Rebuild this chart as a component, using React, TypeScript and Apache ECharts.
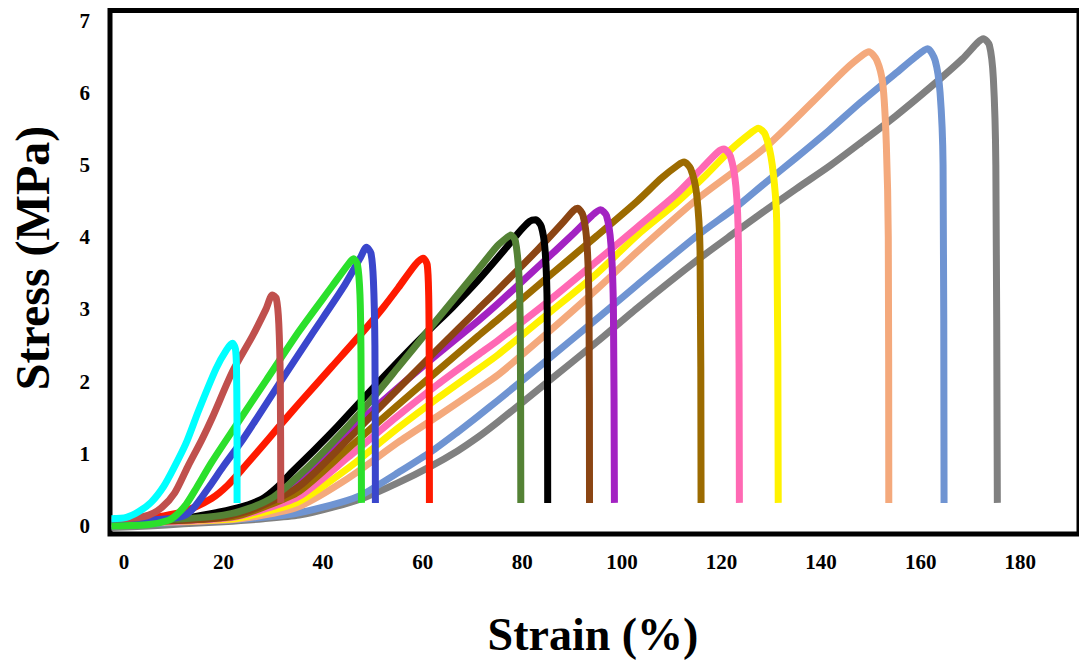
import React, { useEffect, useRef } from "react";
import * as echarts from "echarts";

// Tick labels
const strainTicks = [0, 20, 40, 60, 80, 100, 120, 140, 160, 180];
const stressTicks = [0, 1, 2, 3, 4, 5, 6, 7];

// Curves: [strain (%), stress (MPa)]
const curveGray: number[][] = [
  [-2.5, -0.02], [5, 0.0], [12, 0.03], [20, 0.06], [28, 0.1], [35.2, 0.15], [42, 0.26], [48.5, 0.4],
  [55.1, 0.6], [61.7, 0.83], [67, 1.04], [71.1, 1.23], [75.1, 1.44], [85, 1.99], [95, 2.55], [103.1, 3.02],
  [115.1, 3.68], [123, 4.08], [128.4, 4.35], [135, 4.67], [141.6, 4.98], [148, 5.31], [155, 5.68], [162, 6.08],
  [168.4, 6.47], [171.5, 6.7], [172.6, 6.75], [173.8, 6.66], [174.6, 6.2], [175.1, 5.0], [175.4, 0.32],
];
const curveCornflower: number[][] = [
  [-2.5, 0.0], [5, 0.03], [12, 0.06], [20.8, 0.08], [28, 0.12], [34.2, 0.17], [40, 0.26], [46, 0.38],
  [48.5, 0.46], [55.1, 0.74], [61.7, 1.03], [67, 1.3], [71.1, 1.52], [75.1, 1.74], [85, 2.3], [95, 2.87],
  [103.1, 3.34], [115.1, 4.02], [123, 4.42], [128.4, 4.73], [135, 5.1], [141.6, 5.48], [148, 5.87], [155, 6.27],
  [159, 6.5], [161.4, 6.61], [162.9, 6.45], [163.9, 6.0], [164.5, 5.0], [164.7, 0.32],
];
const curveSalmon: number[][] = [
  [-2.5, 0.04], [12, 0.06], [22, 0.09], [28, 0.15], [35.2, 0.27], [45, 0.66], [55.1, 1.16], [63, 1.52],
  [71.1, 1.9], [75.1, 2.09], [85, 2.67], [95, 3.28], [103.1, 3.8], [115, 4.52], [128.4, 5.22], [138.4, 5.88],
  [145, 6.33], [148.5, 6.53], [149.6, 6.57], [151.2, 6.45], [152.4, 6.12], [153.1, 5.3], [153.5, 4.0], [153.6, 0.32],
];
const curveYellow: number[][] = [
  [-2.5, 0.05], [12, 0.07], [22, 0.1], [28, 0.19], [35.2, 0.34], [45, 0.8], [55.1, 1.36], [63, 1.77],
  [71.1, 2.17], [75.1, 2.37], [85, 2.93], [95, 3.5], [103.1, 4.03], [111, 4.48], [117, 4.87], [122, 5.22],
  [126, 5.45], [127.4, 5.51], [128.8, 5.42], [130.2, 5.0], [131.1, 4.2], [131.4, 0.32],
];
const curvePink: number[][] = [
  [-2.5, 0.05], [12, 0.07], [22, 0.12], [28, 0.23], [35.2, 0.41], [45, 0.95], [55.1, 1.53], [63, 1.96],
  [71.1, 2.37], [75.1, 2.57], [85, 3.1], [95, 3.67], [103.1, 4.14], [111, 4.6], [116, 4.95], [119.3, 5.18],
  [120.5, 5.22], [121.8, 5.12], [122.9, 4.7], [123.4, 3.9], [123.6, 0.32],
];
const curveGoldenrod: number[][] = [
  [-2.5, 0.05], [12, 0.08], [22, 0.13], [28, 0.26], [35.2, 0.48], [45, 1.07], [55.1, 1.68], [63, 2.15],
  [71.1, 2.63], [75.1, 2.86], [85, 3.44], [95, 4.02], [103.1, 4.5], [108, 4.82], [111.3, 5.0], [112.5, 5.04],
  [113.8, 4.95], [115, 4.6], [115.7, 3.8], [115.9, 0.32],
];
const curvePurple: number[][] = [
  [-2.5, 0.06], [12, 0.09], [20, 0.14], [27, 0.3], [35.2, 0.64], [45, 1.3], [55.1, 1.92], [63, 2.38],
  [71.1, 2.84], [75.1, 3.08], [83, 3.58], [90, 4.03], [94, 4.3], [95.7, 4.38], [96.9, 4.3], [97.8, 3.9],
  [98.3, 3.0], [98.5, 0.32],
];
const curveBrown: number[][] = [
  [-2.5, 0.06], [12, 0.08], [20, 0.12], [27, 0.26], [35.2, 0.55], [45, 1.2], [55.1, 1.9], [63, 2.45],
  [71.1, 3.0], [75.1, 3.27], [83, 3.82], [88, 4.19], [90.3, 4.37], [91.1, 4.4], [92.2, 4.3], [93, 3.9],
  [93.4, 3.0], [93.5, 0.32],
];
const curveBlack: number[][] = [
  [-2.5, 0.08], [10, 0.1], [14.2, 0.13], [22.8, 0.25], [27.6, 0.37], [30.8, 0.54], [34.2, 0.78], [38.2, 1.05],
  [42.2, 1.33], [48.5, 1.8], [55.1, 2.28], [61.1, 2.7], [66, 3.03], [71.1, 3.4], [76, 3.79], [79.1, 4.05],
  [81.5, 4.22], [82.7, 4.24], [83.8, 4.15], [84.6, 3.8], [85, 3.0], [85.1, 0.32],
];
const curveOlive: number[][] = [
  [-2.5, 0.06], [12, 0.1], [20, 0.15], [25, 0.24], [30, 0.4], [35.2, 0.7], [41.8, 1.15], [48.5, 1.65],
  [55.1, 2.2], [61.7, 2.76], [66, 3.12], [71.1, 3.55], [75, 3.88], [77, 4.0], [77.7, 4.03], [78.6, 3.95],
  [79.3, 3.5], [79.6, 2.7], [79.7, 0.32],
];
const curveRed: number[][] = [
  [-2.5, 0.08], [3, 0.1], [8, 0.14], [12.8, 0.22], [17.6, 0.38], [20.8, 0.56], [24.2, 0.82], [27.6, 1.09],
  [30.8, 1.35], [35.2, 1.7], [41.8, 2.21], [48.5, 2.73], [52, 3.02], [55.1, 3.3], [58.5, 3.62], [60.1, 3.71],
  [60.9, 3.62], [61.2, 3.2], [61.3, 2.4], [61.35, 0.32],
];
const curveBlue: number[][] = [
  [-2.5, 0.05], [4, 0.08], [9, 0.1], [12, 0.14], [14, 0.25], [17, 0.53], [20, 0.83], [23.6, 1.17],
  [26.2, 1.44], [31, 1.95], [37.5, 2.63], [44, 3.3], [47.5, 3.72], [48.7, 3.86], [49.6, 3.78], [50.1, 3.4],
  [50.4, 2.5], [50.5, 0.32],
];
const curveGreen: number[][] = [
  [-2.5, 0.0], [5, 0.02], [9, 0.08], [10.5, 0.15], [12.5, 0.3], [14.5, 0.52], [17.6, 0.88], [21.8, 1.32],
  [28.6, 2.02], [35.2, 2.7], [41.8, 3.32], [45, 3.62], [46.1, 3.7], [46.9, 3.62], [47.4, 3.2], [47.6, 2.4],
  [47.7, 0.32],
];
const curveRosy: number[][] = [
  [-2, 0.1], [2, 0.11], [5, 0.15], [7.5, 0.25], [10.2, 0.46], [12.8, 0.82], [15.6, 1.19], [17.8, 1.51],
  [21.8, 2.14], [25.8, 2.63], [28.5, 3.0], [29.8, 3.2], [30.6, 3.15], [31.1, 2.8], [31.4, 2.0], [31.5, 0.32],
];
const curveCyan: number[][] = [
  [-2.5, 0.1], [0.5, 0.12], [3, 0.2], [5.5, 0.33], [8, 0.55], [10, 0.8], [12.5, 1.15], [15, 1.6],
  [18.5, 2.18], [20.6, 2.44], [21.8, 2.53], [22.4, 2.45], [22.6, 2.2], [22.7, 1.5], [22.72, 0.32],
];

const curves: { data: number[][]; color: string }[] = [
  { data: curveGray, color: "#808080" },
  { data: curveCornflower, color: "#6F94D2" },
  { data: curveSalmon, color: "#F4A97C" },
  { data: curveYellow, color: "#FFF200" },
  { data: curvePink, color: "#FF69B4" },
  { data: curveGoldenrod, color: "#9C6B00" },
  { data: curvePurple, color: "#A322C2" },
  { data: curveBrown, color: "#8B4513" },
  { data: curveBlack, color: "#000000" },
  { data: curveOlive, color: "#548235" },
  { data: curveRed, color: "#FF1A00" },
  { data: curveBlue, color: "#3A46CC" },
  { data: curveGreen, color: "#2BE02B" },
  { data: curveRosy, color: "#C0504D" },
  { data: curveCyan, color: "#00FFFF" },
];

const FONT = "'Liberation Serif', 'Times New Roman', serif";

export default function App() {
  const ref = useRef<HTMLDivElement>(null);
  useEffect(() => {
    if (!ref.current) return;
    const chart = echarts.init(ref.current, null, { renderer: "svg" });
    chart.setOption({
      animation: false,
      backgroundColor: "#ffffff",
      grid: {
        left: 110,
        right: -5,
        top: 10.5,
        bottom: 126,
        show: true,
        borderColor: "#000000",
        borderWidth: 5,
        backgroundColor: "transparent",
      },
      xAxis: {
        type: "value",
        min: -2.8,
        max: 191.8,
        axisLine: { show: false },
        axisTick: { show: false },
        splitLine: { show: false },
        axisLabel: {
          customValues: strainTicks,
          margin: 17,
          fontFamily: FONT,
          fontWeight: "bold",
          fontSize: 21,
          color: "#000000",
        },
      },
      yAxis: {
        type: "value",
        min: -0.111,
        max: 7.14,
        axisLine: { show: false },
        axisTick: { show: false },
        splitLine: { show: false },
        axisLabel: {
          customValues: stressTicks,
          margin: 20,
          fontFamily: FONT,
          fontWeight: "bold",
          fontSize: 21,
          color: "#000000",
        },
      },
      graphic: [
        {
          type: "text",
          x: 593,
          y: 634,
          style: {
            text: "Strain (%)",
            font: `bold 46px ${FONT}`,
            fill: "#000000",
            textAlign: "center",
            textVerticalAlign: "middle",
          },
        },
        {
          type: "text",
          x: 32,
          y: 258,
          rotation: Math.PI / 2,
          style: {
            text: "Stress (MPa)",
            font: `bold 48px ${FONT}`,
            fill: "#000000",
            textAlign: "center",
            textVerticalAlign: "middle",
          },
        },
      ],
      series: curves.map((c) => ({
        type: "line",
        data: c.data,
        showSymbol: false,
        symbol: "none",
        smooth: 0.25,
        clip: true,
        lineStyle: { color: c.color, width: 7, cap: "butt", join: "round" },
        itemStyle: { color: c.color },
        emphasis: { disabled: true },
      })),
    });
    return () => chart.dispose();
  }, []);
  return (
    <div
      ref={ref}
      style={{ position: "fixed", left: 0, top: 0, width: 1079, height: 660, background: "#fff" }}
    />
  );
}
